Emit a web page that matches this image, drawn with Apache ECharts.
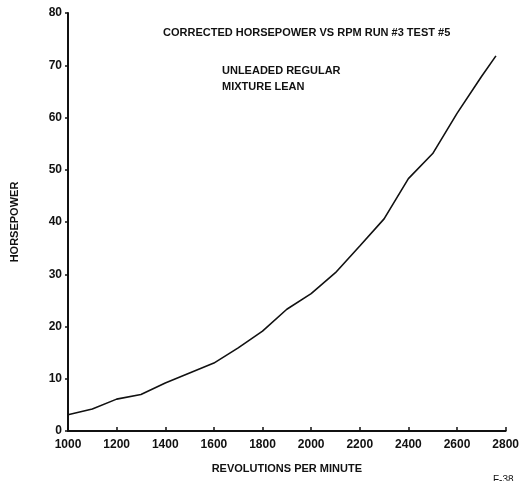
<!DOCTYPE html>
<html>
<head>
<meta charset="utf-8">
<script src="https://cdn.jsdelivr.net/npm/echarts@6/dist/echarts.min.js"></script>
<style>
html,body{margin:0;padding:0;background:#fff;}
#chart{width:522px;height:481px;}
</style>
</head>
<body>
<div id="chart"></div>
<script>
const rpm = [1000,1100,1200,1300,1400,1500,1600,1700,1800,1900,2000,2100,2200,2300,2400,2500,2600,2700,2760];
const horsepower = [3.1,4.2,6.1,7.0,9.2,11.1,13.0,15.9,19.1,23.3,26.3,30.3,35.4,40.6,48.3,53.1,60.8,67.8,71.8];
const titleLines = ["CORRECTED HORSEPOWER VS RPM RUN #3 TEST #5"];
const noteLines = ["UNLEADED REGULAR", "MIXTURE LEAN"];
const xName = "REVOLUTIONS PER MINUTE";
const yName = "HORSEPOWER";
const figTag = "F-38";

const FONT = '"Liberation Sans", Arial, sans-serif';
const INK = '#111';
const chart = echarts.init(document.getElementById('chart'), null, {renderer:'canvas'});
chart.setOption({
  animation:false,
  backgroundColor:'#fff',
  grid:{left:68, right:13, top:13, bottom:50},
  xAxis:{
    type:'value', min:1000, max:2800, interval:200,
    name:xName, nameLocation:'middle', nameGap:32,
    nameTextStyle:{fontFamily:FONT, fontSize:11, fontWeight:'bold', color:INK},
    axisLine:{lineStyle:{color:INK, width:2}},
    axisTick:{inside:true, length:4, lineStyle:{color:INK, width:1.5}},
    axisLabel:{fontFamily:FONT, fontSize:12, fontWeight:'bold', color:INK, margin:8, formatter:v=>String(v)},
    splitLine:{show:false}
  },
  yAxis:{
    type:'value', min:0, max:80, interval:10,
    name:yName, nameLocation:'middle', nameGap:48, nameRotate:90,
    nameTextStyle:{fontFamily:FONT, fontSize:11, fontWeight:'bold', color:INK},
    axisLine:{lineStyle:{color:INK, width:2}},
    axisTick:{inside:false, length:3, lineStyle:{color:INK, width:1.5}},
    axisLabel:{fontFamily:FONT, fontSize:12, fontWeight:'bold', color:INK, margin:6},
    splitLine:{show:false}
  },
  series:[{
    type:'line',
    data:rpm.map((r,i)=>[r, horsepower[i]]),
    showSymbol:false,
    symbol:'none',
    lineStyle:{color:INK, width:1.6},
    smooth:false
  }],
  graphic:[
    {type:'text', left:163, top:27, style:{text:titleLines.join('\n'), font:'bold 11px '+FONT, fill:INK}},
    {type:'text', left:222, top:63, style:{text:noteLines.join('\n'), font:'bold 11px '+FONT, fill:INK, lineHeight:16}},
    {type:'text', left:493, top:475, style:{text:figTag, font:'10px '+FONT, fill:INK}}
  ]
});
</script>
</body>
</html>
